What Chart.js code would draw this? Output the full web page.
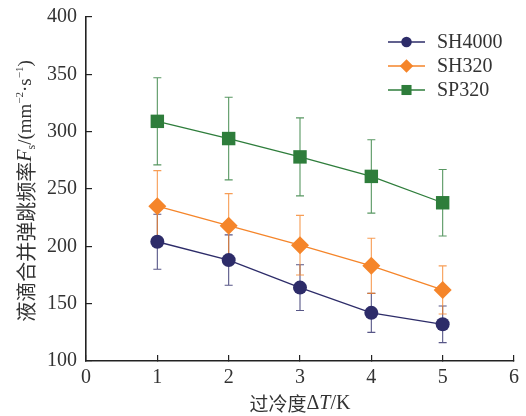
<!DOCTYPE html>
<html>
<head>
<meta charset="utf-8">
<script src="https://cdn.jsdelivr.net/npm/chart.js@4.4.1/dist/chart.umd.min.js"></script>
<style>
  html, body { margin: 0; padding: 0; background: #fff; }
</style>
</head>
<body>
<canvas id="chart" width="526" height="416"></canvas>
<script>
// data
const x_values = [1, 2, 3, 4, 5];
const sh4000_values = [204, 188, 164, 142, 132];
const sh4000_err = [24, 22, 20, 17, 16];
const sh320_values = [235, 218, 201, 183, 162];
const sh320_err = [31, 28, 26, 24, 21];
const sp320_values = [309, 294, 278, 261, 238];
const sp320_err = [38, 36, 34, 32, 29];
const series_names = ["SH4000", "SH320", "SP320"];

const NAVY = "#2d2c69";
const ORANGE = "#f5852a";
const GREEN = "#2e7d3b";
const SERIF = '"Liberation Serif", "DejaVu Serif", serif';
const CJK = '"Noto Sans CJK SC", sans-serif';

function to_points(values) {
    return x_values.map((x, i) => ({ x: x, y: values[i] }));
}

function make_dataset(label, values, errs, color, style, radius) {
    return {
        label: label,
        data: to_points(values),
        errors: errs,
        borderColor: color,
        backgroundColor: color,
        borderWidth: 1.3,
        pointStyle: style,
        pointRadius: radius,
        pointBorderWidth: 0,
        pointBackgroundColor: color,
        legendRadius: radius * 0.75,
        tension: 0
    };
}

//
// ERROR BARS (drawn under the markers)
//
const error_bar_plugin = {
    id: "error_bars",
    beforeDatasetsDraw(chart) {
        const ctx = chart.ctx;
        const y_scale = chart.scales.y;
        chart.data.datasets.forEach((ds, di) => {
            const meta = chart.getDatasetMeta(di);
            ctx.save();
            ctx.strokeStyle = ds.borderColor;
            ctx.globalAlpha = 0.8;
            ctx.lineWidth = 1.1;
            meta.data.forEach((pt, i) => {
                const v = ds.data[i].y;
                const e = ds.errors[i];
                const top = y_scale.getPixelForValue(v + e);
                const bot = y_scale.getPixelForValue(v - e);
                const x = pt.x;
                ctx.beginPath();
                ctx.moveTo(x, top);
                ctx.lineTo(x, bot);
                ctx.moveTo(x - 4, top);
                ctx.lineTo(x + 4, top);
                ctx.moveTo(x - 4, bot);
                ctx.lineTo(x + 4, bot);
                ctx.stroke();
            });
            ctx.restore();
        });
    }
};

//
// LEGEND: line + marker, top right
//
const legend_plugin = {
    id: "line_legend",
    afterDraw(chart) {
        const ctx = chart.ctx;
        ctx.save();
        chart.data.datasets.forEach((ds, i) => {
            const y = 42 + i * 24;
            ctx.strokeStyle = ds.borderColor;
            ctx.lineWidth = 1.3;
            ctx.beginPath();
            ctx.moveTo(388, y);
            ctx.lineTo(425, y);
            ctx.stroke();
            ctx.fillStyle = ds.borderColor;
            Chart.helpers.drawPoint(ctx, {
                pointStyle: ds.pointStyle,
                radius: ds.legendRadius,
                borderWidth: 0,
                rotation: 0
            }, 406.5, y);
            ctx.fillStyle = "#333";
            ctx.font = "20px " + SERIF;
            ctx.textBaseline = "middle";
            ctx.textAlign = "left";
            ctx.fillText(ds.label, 437, y + 1);
        });
        ctx.restore();
    }
};

//
// AXIS TITLES with mixed fonts (italic symbol, sub/superscripts)
//
function draw_parts(ctx, parts, cx, cy) {
    let total = 0;
    parts.forEach(p => {
        ctx.font = p.font;
        p.w = ctx.measureText(p.text).width;
        total += p.w;
    });
    let x = cx - total / 2;
    parts.forEach(p => {
        ctx.font = p.font;
        ctx.fillText(p.text, x, cy + (p.dy || 0));
        x += p.w;
    });
}

const titles_plugin = {
    id: "axis_titles",
    afterDraw(chart) {
        const ctx = chart.ctx;
        const area = chart.chartArea;
        ctx.save();
        ctx.fillStyle = "#333";
        ctx.textBaseline = "middle";
        ctx.textAlign = "left";

        draw_parts(ctx, [
            { text: "过冷度", font: "19px " + CJK },
            { text: "Δ", font: "20px " + SERIF },
            { text: "T", font: "italic 20px " + SERIF },
            { text: "/K", font: "20px " + SERIF }
        ], (area.left + area.right) / 2, 404);

        ctx.translate(26, (area.top + area.bottom) / 2 + 2);
        ctx.rotate(-Math.PI / 2);
        draw_parts(ctx, [
            { text: "液滴合并弹跳频率", font: "20px " + CJK },
            { text: "F", font: "italic 20px " + SERIF },
            { text: "s", font: "12px " + SERIF, dy: 6 },
            { text: "/(mm", font: "19px " + SERIF },
            { text: "−2", font: "11px " + SERIF, dy: -6 },
            { text: "·s", font: "19px " + SERIF },
            { text: "−1", font: "11px " + SERIF, dy: -6 },
            { text: ")", font: "19px " + SERIF }
        ], 0, 0);
        ctx.restore();
    }
};

new Chart(document.getElementById("chart"), {
    type: "line",
    data: {
        datasets: [
            make_dataset(series_names[0], sh4000_values, sh4000_err, NAVY, "circle", 7),
            make_dataset(series_names[1], sh320_values, sh320_err, ORANGE, "rectRot", 9),
            make_dataset(series_names[2], sp320_values, sp320_err, GREEN, "rect", 9.5)
        ]
    },
    options: {
        responsive: false,
        animation: false,
        layout: { padding: { top: 17, right: 12, left: 0, bottom: 0 } },
        plugins: {
            legend: { display: false },
            tooltip: { enabled: false }
        },
        scales: {
            x: {
                type: "linear",
                min: 0,
                max: 6,
                afterFit: (s) => { s.height = 55; s.paddingLeft = 0; s.paddingRight = 0; },
                ticks: {
                    stepSize: 1,
                    padding: 11,
                    color: "#333",
                    font: { family: SERIF, size: 20 }
                },
                grid: {
                    drawOnChartArea: false,
                    tickLength: -6,
                    color: "#222",
                    lineWidth: 1.2
                },
                border: { color: "#222", width: 1.6 }
            },
            y: {
                min: 100,
                max: 400,
                afterFit: (s) => { s.width = 86; s.paddingTop = 0; s.paddingBottom = 0; },
                ticks: {
                    stepSize: 50,
                    padding: 15,
                    color: "#333",
                    font: { family: SERIF, size: 20 }
                },
                grid: {
                    drawOnChartArea: false,
                    tickLength: -6,
                    color: "#222",
                    lineWidth: 1.2
                },
                border: { color: "#222", width: 1.6 }
            }
        }
    },
    plugins: [error_bar_plugin, legend_plugin, titles_plugin]
});
</script>
</body>
</html>
